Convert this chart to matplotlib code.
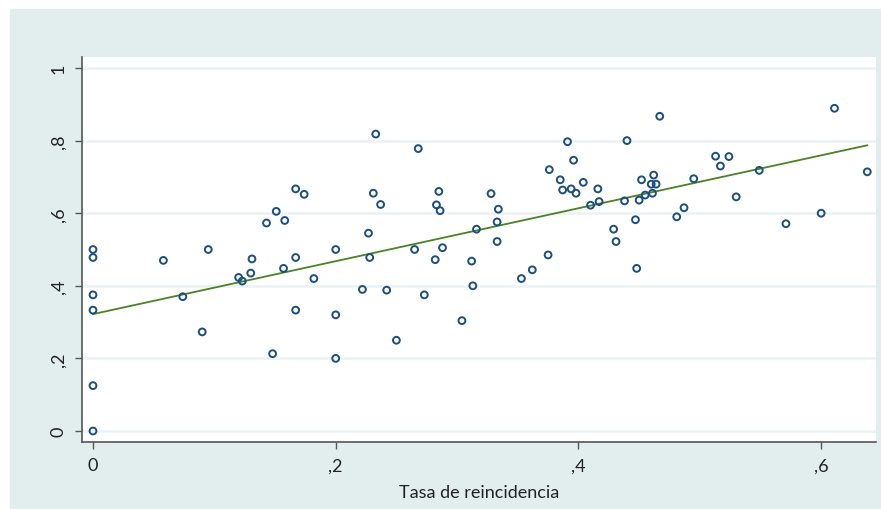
import matplotlib.pyplot as plt
from matplotlib.patches import Rectangle

# tasa de reincidencia vs. proporción
x_vals = [0, 0, 0, 0, 0, 0,
          0.058, 0.074, 0.090, 0.095, 0.120, 0.123, 0.130, 0.131, 0.143,
          0.148, 0.151, 0.157, 0.158, 0.167, 0.167, 0.167, 0.174, 0.182,
          0.200, 0.200, 0.200, 0.222, 0.227, 0.228, 0.231, 0.233, 0.237,
          0.242, 0.250, 0.265, 0.268, 0.273, 0.282, 0.283, 0.285, 0.286,
          0.288, 0.304, 0.312, 0.313, 0.316, 0.328, 0.333, 0.333, 0.334,
          0.353, 0.362, 0.375, 0.376, 0.385, 0.387, 0.391, 0.394, 0.396,
          0.398, 0.404, 0.410, 0.416, 0.417, 0.429, 0.431, 0.438, 0.440,
          0.447, 0.448, 0.450, 0.452, 0.455, 0.460, 0.461, 0.462, 0.464,
          0.467, 0.481, 0.487, 0.495, 0.513, 0.517, 0.524, 0.530, 0.549,
          0.571, 0.600, 0.611, 0.638]
y_vals = [0.500, 0.478, 0.375, 0.333, 0.125, 0.000,
          0.470, 0.370, 0.273, 0.500, 0.423, 0.413, 0.435, 0.474, 0.573,
          0.213, 0.605, 0.448, 0.580, 0.667, 0.478, 0.333, 0.652, 0.420,
          0.500, 0.320, 0.200, 0.390, 0.545, 0.478, 0.655, 0.818, 0.624,
          0.388, 0.250, 0.500, 0.778, 0.375, 0.472, 0.623, 0.660, 0.607,
          0.505, 0.304, 0.468, 0.400, 0.556, 0.654, 0.522, 0.576, 0.611,
          0.420, 0.444, 0.485, 0.720, 0.692, 0.664, 0.797, 0.667, 0.746,
          0.655, 0.685, 0.622, 0.667, 0.632, 0.556, 0.522, 0.634, 0.800,
          0.582, 0.448, 0.636, 0.692, 0.650, 0.680, 0.655, 0.705, 0.680,
          0.867, 0.590, 0.615, 0.695, 0.757, 0.730, 0.756, 0.645, 0.718,
          0.571, 0.600, 0.889, 0.714]

# recta ajustada
fit_x = [0, 0.638]
intercept = 0.322
slope = 0.729

x_ticks = [0, 0.2, 0.4, 0.6]
x_labels = ['0', ',2', ',4', ',6']
y_ticks = [0, 0.2, 0.4, 0.6, 0.8, 1]
y_labels = ['0', ',2', ',4', ',6', ',8', '1']

BG = '#e2eeee'
GRID = '#eaf2f4'
DOT = '#1a4f80'
LINE = '#4a8224'


def main():
    plt.rcParams['font.family'] = ['Lato', 'DejaVu Sans']
    fig = plt.figure(figsize=(8.81, 5.10), dpi=100)
    fig.patches.append(Rectangle((10 / 881, 0), 1, 1 - 10 / 510,
                                 transform=fig.transFigure, color=BG, zorder=-10))
    ax = fig.add_axes([82 / 881, 67 / 510, 794 / 881, 385 / 510])
    ax.set_facecolor('white')

    ax.scatter(x_vals, y_vals, s=24, facecolors='none', edgecolors=DOT,
               linewidths=1.4, zorder=3)
    ax.plot(fit_x, [intercept + slope * v for v in fit_x], color=LINE, lw=1.3, zorder=2)

    ax.set_xlim(-0.00906, 0.6452)
    ax.set_ylim(-0.0303, 1.0303)
    ax.set_xticks(x_ticks)
    ax.set_xticklabels(x_labels, fontsize=13)
    ax.set_yticks(y_ticks)
    ax.set_yticklabels(y_labels, fontsize=13, rotation=90, va='center')
    for t in y_ticks:
        ax.axhline(t, color=GRID, lw=1.8, zorder=0)

    for s in ['top', 'right']:
        ax.spines[s].set_visible(False)
    for s in ['left', 'bottom']:
        ax.spines[s].set_color('#555555')
        ax.spines[s].set_linewidth(1.2)
    ax.tick_params(length=5, width=1, color='#555555', labelcolor='#222222', pad=6)

    ax.set_xlabel('Tasa de reincidencia', fontsize=13, color='#222222', labelpad=8)

    fig.savefig('out.png', dpi=100, facecolor='white')


if __name__ == '__main__':
    main()
